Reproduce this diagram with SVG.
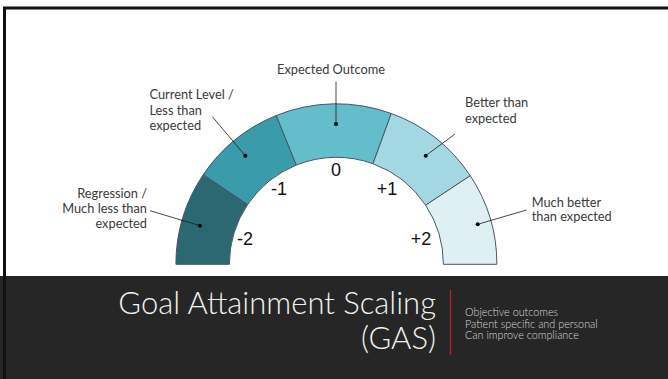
<svg xmlns="http://www.w3.org/2000/svg" width="668" height="379" viewBox="0 0 668 379">
<style>
.seg{stroke:#46566a;stroke-width:1}
.lbl{font-family:Lato,"Open Sans",sans-serif;font-size:12.8px;fill:#3a3a3a}
.num{font-family:"Liberation Sans",Arial,sans-serif;font-size:18px;fill:#111}
.lead{stroke:#1a1a1a;stroke-width:0.8;fill:none}
.dot{fill:#000}
.title{font-family:Lato,"Open Sans",sans-serif;font-weight:300;font-size:31px;fill:#f2f2f2}
.sub{font-family:Lato,"Open Sans",sans-serif;font-weight:300;font-size:10.8px;fill:#d8d8d8}
</style>
<rect x="0" y="0" width="668" height="379" fill="#ffffff"/>
<rect x="0" y="276" width="668" height="103" fill="#262626"/>
<path d="M4.5,379 V8 H668" fill="none" stroke="#111" stroke-width="3"/>
<g id="gauge">
<g id="seg-m2"><path class="seg" fill="#2b6871" d="M175.9,264.3 A160.5,160.5 0 0 1 203.34,174.55 L247.70,204.47 A107,107 0 0 0 229.4,264.3 Z"/></g>
<g id="seg-m1"><path class="seg" fill="#3a9bab" d="M203.34,174.55 A160.5,160.5 0 0 1 276.28,115.48 L296.32,165.09 A107,107 0 0 0 247.70,204.47 Z"/></g>
<g id="seg-0"><path class="seg" fill="#63bdca" d="M276.28,115.48 A160.5,160.5 0 0 1 391.29,113.48 L372.99,163.75 A107,107 0 0 0 296.32,165.09 Z"/></g>
<g id="seg-p1"><path class="seg" fill="#a3d7e1" d="M391.29,113.48 A160.5,160.5 0 0 1 470.24,175.72 L425.63,205.25 A107,107 0 0 0 372.99,163.75 Z"/></g>
<g id="seg-p2"><path class="seg" fill="#dff0f5" d="M470.24,175.72 A160.5,160.5 0 0 1 496.9,264.3 L443.4,264.3 A107,107 0 0 0 425.63,205.25 Z"/></g>
</g>
<g id="numbers">
<text class="num" x="245" y="245" text-anchor="middle">-2</text>
<text class="num" x="279" y="194.5" text-anchor="middle">-1</text>
<text class="num" x="336" y="176" text-anchor="middle">0</text>
<text class="num" x="387" y="194.5" text-anchor="middle">+1</text>
<text class="num" x="421" y="245" text-anchor="middle">+2</text>
</g>
<g id="connectors">
<path class="lead" d="M150,210.7 L200,225.7"/>
<path class="lead" d="M212.3,116.7 L245.3,155.7"/>
<path class="lead" d="M336,81.7 L336,124"/>
<path class="lead" d="M455,134 L425.7,155.7"/>
<path class="lead" d="M526.5,210 L477.7,224.3"/>
<circle class="dot" cx="200" cy="225.7" r="2"/>
<circle class="dot" cx="245.3" cy="155.7" r="2"/>
<circle class="dot" cx="336" cy="124" r="2"/>
<circle class="dot" cx="425.7" cy="155.7" r="2"/>
<circle class="dot" cx="477.7" cy="224.3" r="2"/>
</g>
<g id="label-m2">
<text class="lbl" text-anchor="end" x="147" y="197.5">Regression /</text>
<text class="lbl" text-anchor="end" x="147" y="212.5">Much less than</text>
<text class="lbl" text-anchor="end" x="147" y="227.5">expected</text>
</g>
<g id="label-m1">
<text class="lbl" x="149.5" y="99.3">Current Level /</text>
<text class="lbl" x="149.5" y="114.8">Less than</text>
<text class="lbl" x="149.5" y="130.3">expected</text>
</g>
<g id="label-0">
<text class="lbl" text-anchor="middle" x="331" y="74">Expected Outcome</text>
</g>
<g id="label-p1">
<text class="lbl" x="465" y="106.5">Better than</text>
<text class="lbl" x="465" y="122.5">expected</text>
</g>
<g id="label-p2">
<text class="lbl" x="531.7" y="206.5">Much better</text>
<text class="lbl" x="531.7" y="221">than expected</text>
</g>
<g id="footer">
<text class="title" text-anchor="end" x="436" y="314">Goal Attainment Scaling</text>
<text class="title" text-anchor="end" x="436" y="348.5">(GAS)</text>
<line x1="450.5" y1="290" x2="450.5" y2="355" stroke="#c0202a" stroke-width="1.2"/>
<text class="sub" x="465" y="316">Objective outcomes</text>
<text class="sub" x="465" y="327.5">Patient specific and personal</text>
<text class="sub" x="465" y="339">Can improve compliance</text>
</g>
</svg>
